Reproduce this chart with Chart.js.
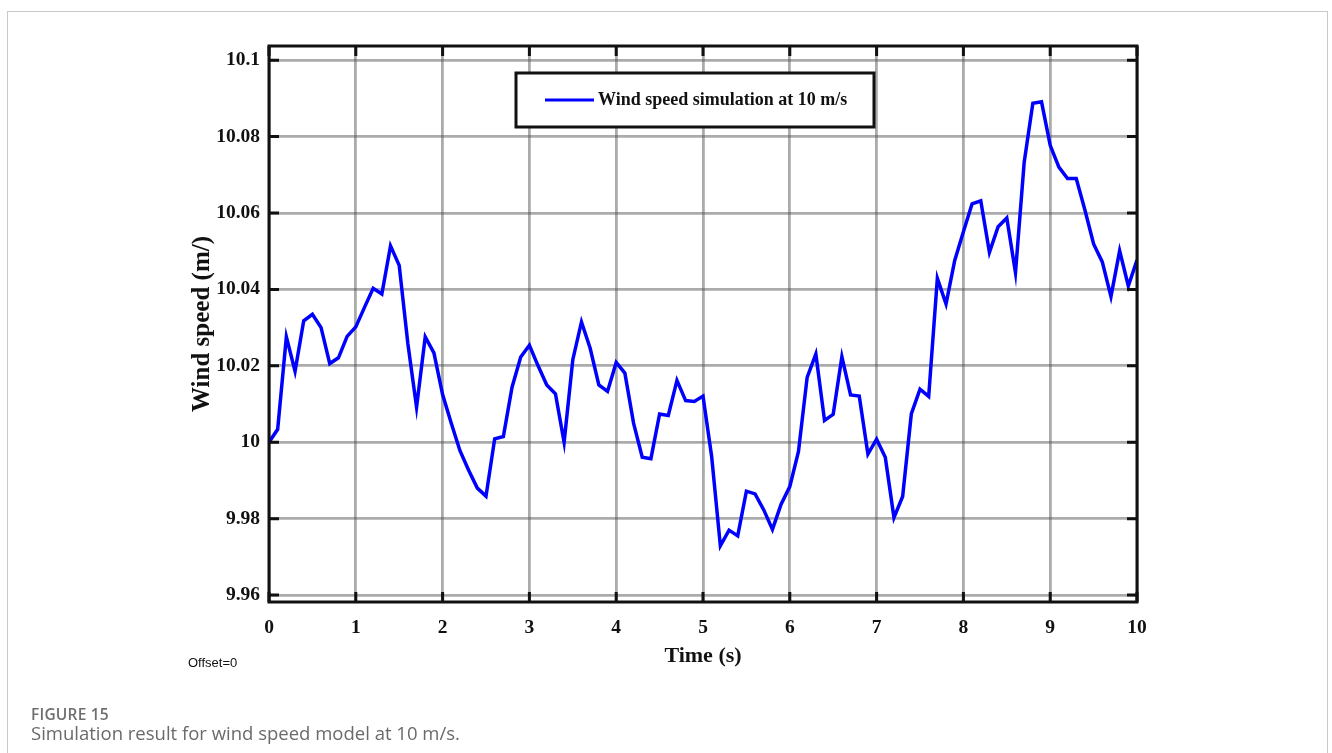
<!DOCTYPE html>
<html>
<head>
<meta charset="utf-8">
<script src="https://cdn.jsdelivr.net/npm/chart.js@4.4.1/dist/chart.umd.min.js"></script>
<style>
  html, body { margin: 0; padding: 0; background: #fff; overflow: hidden; }
  #wrap { position: relative; width: 1332px; height: 753px; }
  #c { position: absolute; left: 0; top: 0; }
  #frame { position: absolute; left: 7px; top: 11px; width: 1321px; height: 760px;
           border: 1px solid #c9c9c9; box-sizing: border-box; }
  .txt { position: absolute; white-space: nowrap; }
  #offset { left: 188px; top: 655px; font: 13px "Liberation Sans", Arial, sans-serif; color: #111; }
  #fig { left: 31px; top: 703px; font: 600 15.5px "Open Sans", "Noto Sans", sans-serif; color: #6f6f6f; letter-spacing: 0.2px; }
  #cap { left: 31px; top: 720px; font: 400 18.5px "Open Sans", "Noto Sans", sans-serif; color: #6a6a6a; }
</style>
</head>
<body>
<div id="wrap">
  <canvas id="c" width="1332" height="753"></canvas>
  <div id="frame"></div>
  <div class="txt" id="offset">Offset=0</div>
  <div class="txt" id="fig">FIGURE 15</div>
  <div class="txt" id="cap">Simulation result for wind speed model at 10 m/s.</div>
</div>
<script>
// ---------------- DATA ----------------
const timeSec = [
  0.0,0.1,0.2,0.3,0.4,0.5,0.6,0.7,0.8,0.9,
  1.0,1.1,1.2,1.3,1.4,1.5,1.6,1.7,1.8,1.9,
  2.0,2.1,2.2,2.3,2.4,2.5,2.6,2.7,2.8,2.9,
  3.0,3.1,3.2,3.3,3.4,3.5,3.6,3.7,3.8,3.9,
  4.0,4.1,4.2,4.3,4.4,4.5,4.6,4.7,4.8,4.9,
  5.0,5.1,5.2,5.3,5.4,5.5,5.6,5.7,5.8,5.9,
  6.0,6.1,6.2,6.3,6.4,6.5,6.6,6.7,6.8,6.9,
  7.0,7.1,7.2,7.3,7.4,7.5,7.6,7.7,7.8,7.9,
  8.0,8.1,8.2,8.3,8.4,8.5,8.6,8.7,8.8,8.9,
  9.0,9.1,9.2,9.3,9.4,9.5,9.6,9.7,9.8,9.9,
  10.0
];
const windSpeed = [
  10.0000,10.0034,10.0276,10.0186,10.0318,10.0335,10.0300,10.0206,10.0221,10.0277,
  10.0302,10.0353,10.0403,10.0388,10.0514,10.0463,10.0258,10.0092,10.0276,10.0234,
  10.0125,10.0050, 9.9978, 9.9927, 9.9880, 9.9859,10.0009,10.0015,10.0144,10.0223,
  10.0254,10.0200,10.0150,10.0127,10.0000,10.0216,10.0315,10.0246,10.0150,10.0133,
  10.0209,10.0181,10.0050, 9.9961, 9.9957,10.0074,10.0070,10.0162,10.0109,10.0107,
  10.0121, 9.9962, 9.9729, 9.9770, 9.9755, 9.9872, 9.9865, 9.9823, 9.9772, 9.9838,
   9.9884, 9.9976,10.0170,10.0231,10.0057,10.0073,10.0224,10.0124,10.0121, 9.9969,
  10.0008, 9.9961, 9.9803, 9.9858,10.0074,10.0139,10.0120,10.0429,10.0362,10.0476,
  10.0551,10.0624,10.0632,10.0497,10.0564,10.0587,10.0444,10.0732,10.0887,10.0891,
  10.0777,10.0720,10.0690,10.0690,10.0608,10.0519,10.0472,10.0381,10.0501,10.0409,
  10.0477
];
const seriesLabel = "Wind speed simulation at 10 m/s";
const xTickValues = [0,1,2,3,4,5,6,7,8,9,10];
const xTickLabels = ["0","1","2","3","4","5","6","7","8","9","10"];
const yTickValues = [9.96,9.98,10.00,10.02,10.04,10.06,10.08,10.10];
const yTickLabels = ["9.96","9.98","10","10.02","10.04","10.06","10.08","10.1"];
const xTitle = "Time (s)";
const yTitle = "Wind speed (m/)";

// ---------------- CHART ----------------
const SERIF = '"Liberation Serif", "Times New Roman", Times, serif';
const points = timeSec.map((t, i) => ({ x: t, y: windSpeed[i] }));

const frameAndTicks = {
  id: 'frameAndTicks',
  afterDatasetsDraw(chart) {
    const { ctx, chartArea: a, scales } = chart;
    ctx.save();
    ctx.strokeStyle = '#111';
    ctx.lineWidth = 3;
    ctx.lineCap = 'butt';
    const L = 10;
    ctx.beginPath();
    scales.y.ticks.forEach(t => {
      const py = scales.y.getPixelForValue(t.value);
      ctx.moveTo(a.left, py); ctx.lineTo(a.left + L, py);
      ctx.moveTo(a.right, py); ctx.lineTo(a.right - L, py);
    });
    scales.x.ticks.forEach(t => {
      const px = scales.x.getPixelForValue(t.value);
      ctx.moveTo(px, a.bottom); ctx.lineTo(px, a.bottom - L);
      ctx.moveTo(px, a.top); ctx.lineTo(px, a.top + L);
    });
    ctx.stroke();
    ctx.strokeRect(a.left, a.top, a.right - a.left, a.bottom - a.top);

    // legend box
    const ds = chart.data.datasets[0];
    const bx = a.left + 247, by = a.top + 27, bw = 358, bh = 54;
    ctx.fillStyle = '#fff';
    ctx.fillRect(bx, by, bw, bh);
    ctx.lineWidth = 3;
    ctx.strokeStyle = '#111';
    ctx.strokeRect(bx, by, bw, bh);
    ctx.beginPath();
    ctx.strokeStyle = ds.borderColor;
    ctx.lineWidth = 3;
    ctx.moveTo(bx + 29, by + 27); ctx.lineTo(bx + 78, by + 27);
    ctx.stroke();
    ctx.fillStyle = '#111';
    ctx.font = 'bold 18px ' + SERIF;
    ctx.textBaseline = 'middle';
    ctx.textAlign = 'left';
    ctx.fillText(ds.label, bx + 82, by + 27);
    ctx.restore();
  }
};

new Chart(document.getElementById('c'), {
  type: 'line',
  data: {
    datasets: [{
      label: seriesLabel,
      data: points,
      borderColor: '#0000ff',
      borderWidth: 3.5,
      pointRadius: 0,
      tension: 0,
      fill: false
    }]
  },
  options: {
    responsive: false,
    animation: false,
    devicePixelRatio: 1,
    layout: { padding: { left: 180, right: 195, top: 46, bottom: 81 } },
    plugins: { legend: { display: false }, tooltip: { enabled: false } },
    scales: {
      x: {
        type: 'linear',
        min: 0, max: 10,
        afterBuildTicks(s) { s.ticks = xTickValues.map(v => ({ value: v })); },
        afterFit(s) { s.height = 70; },
        ticks: {
          callback: (v, i) => xTickLabels[i],
          color: '#111',
          padding: 14,
          maxRotation: 0,
          autoSkip: false,
          font: { family: SERIF, size: 19.5, weight: 'bold' }
        },
        grid: { color: 'rgba(80,80,80,0.48)', lineWidth: 2.8, drawTicks: false },
        border: { display: false },
        title: {
          display: true, text: xTitle, color: '#111',
          font: { family: SERIF, size: 22, weight: 'bold' },
          padding: { top: 0, bottom: 2 }
        }
      },
      y: {
        type: 'linear',
        min: 9.9582, max: 10.1037,
        afterBuildTicks(s) { s.ticks = yTickValues.map(v => ({ value: v })); },
        afterFit(s) { s.width = 89; },
        ticks: {
          callback: (v, i) => yTickLabels[i],
          color: '#111',
          padding: 9,
          autoSkip: false,
          font: { family: SERIF, size: 19.5, weight: 'bold' }
        },
        grid: { color: 'rgba(80,80,80,0.48)', lineWidth: 2.8, drawTicks: false },
        border: { display: false },
        title: {
          display: true, text: yTitle, color: '#111',
          font: { family: SERIF, size: 25, weight: 'bold' },
          padding: { top: 8, bottom: 0 }
        }
      }
    }
  },
  plugins: [frameAndTicks]
});
</script>
</body>
</html>
